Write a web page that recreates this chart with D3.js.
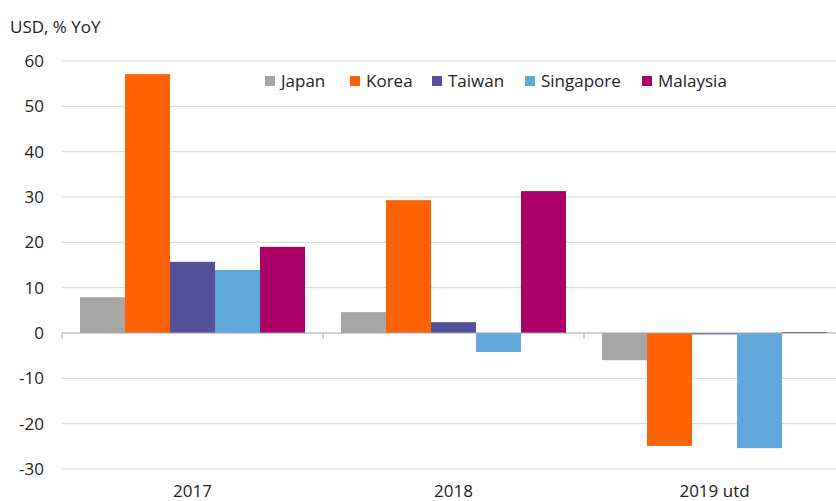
<!DOCTYPE html>
<html><head><meta charset="utf-8">
<script src="https://cdn.jsdelivr.net/npm/d3@7/dist/d3.min.js"></script>
<style>body{margin:0;background:#fff}svg{display:block}text{font-family:"Open Sans",sans-serif;fill:#222}</style>
</head><body>
<svg id="c" width="836" height="501"></svg>
<script>
const categories = ["2017", "2018", "2019 utd"];
const seriesNames = ["Japan", "Korea", "Taiwan", "Singapore", "Malaysia"];
const japan = [7.9, 4.6, -6.0];
const korea = [57.1, 29.3, -24.9];
const taiwan = [15.7, 2.4, -0.3];
const singapore = [13.9, -4.2, -25.4];
const malaysia = [19.0, 31.3, 0.2];
const colors = ["#a6a6a6", "#ff6200", "#525199", "#60a8dc", "#ab0066"];
const yTicks = [-30, -20, -10, 0, 10, 20, 30, 40, 50, 60];
const values = [japan, korea, taiwan, singapore, malaysia];

const svg = d3.select("#c");
const left = 62, right = 845;
const fs = 17;
const x0 = d3.scaleBand().domain(categories).range([left, right]).paddingInner(0).paddingOuter(0);
const x1 = d3.scaleBand().domain(seriesNames).range([0, x0.bandwidth()]).paddingOuter(0.4).paddingInner(0);
const y = d3.scaleLinear().domain([-30, 60]).range([469, 61]);

// gridlines
svg.append("g").selectAll("line").data(yTicks.filter(d => d !== 0)).join("line")
  .attr("x1", left).attr("x2", 836).attr("y1", d => y(d)).attr("y2", d => y(d))
  .attr("stroke", "#d9d9d9").attr("stroke-width", 1);

// y labels
svg.append("g").selectAll("text").data(yTicks).join("text")
  .attr("x", 44).attr("y", d => y(d)).attr("dy", "0.35em").attr("text-anchor", "end")
  .attr("font-size", fs).text(d => d);

svg.append("text").attr("x", 10).attr("y", 27).attr("dy", "0.35em").attr("font-size", fs).text("USD, % YoY");

// bars
const data = [];
categories.forEach((c, i) => seriesNames.forEach((s, j) => data.push({c, s, v: values[j][i], col: colors[j]})));
svg.append("g").selectAll("rect").data(data).join("rect")
  .attr("x", d => x0(d.c) + x1(d.s))
  .attr("width", x1.bandwidth())
  .attr("y", d => y(Math.max(0, d.v)))
  .attr("height", d => Math.abs(y(d.v) - y(0)))
  .attr("fill", d => d.col);

// zero axis
svg.append("line").attr("x1", left).attr("x2", 836).attr("y1", y(0)).attr("y2", y(0))
  .attr("stroke", "#a6a6a6").attr("stroke-width", 1.2);
svg.append("g").selectAll("line").data(categories).join("line")
  .attr("x1", d => x0(d)).attr("x2", d => x0(d))
  .attr("y1", y(0)).attr("y2", y(0) + 6).attr("stroke", "#a6a6a6");

// x labels
svg.append("g").selectAll("text").data(categories).join("text")
  .attr("x", d => x0(d) + x0.bandwidth() / 2).attr("y", 491).attr("dy", "0.35em")
  .attr("text-anchor", "middle").attr("font-size", fs).text(d => d);

// legend
const legX = [265, 350, 432, 525, 642];
const lg = svg.append("g").selectAll("g").data(seriesNames).join("g")
  .attr("transform", (d, i) => `translate(${legX[i]},81)`);
lg.append("rect").attr("x", 0).attr("y", -5).attr("width", 10).attr("height", 10).attr("fill", (d, i) => colors[i]);
lg.append("text").attr("x", 16).attr("dy", "0.35em").attr("font-size", fs).text(d => d);
</script>
</body></html>
